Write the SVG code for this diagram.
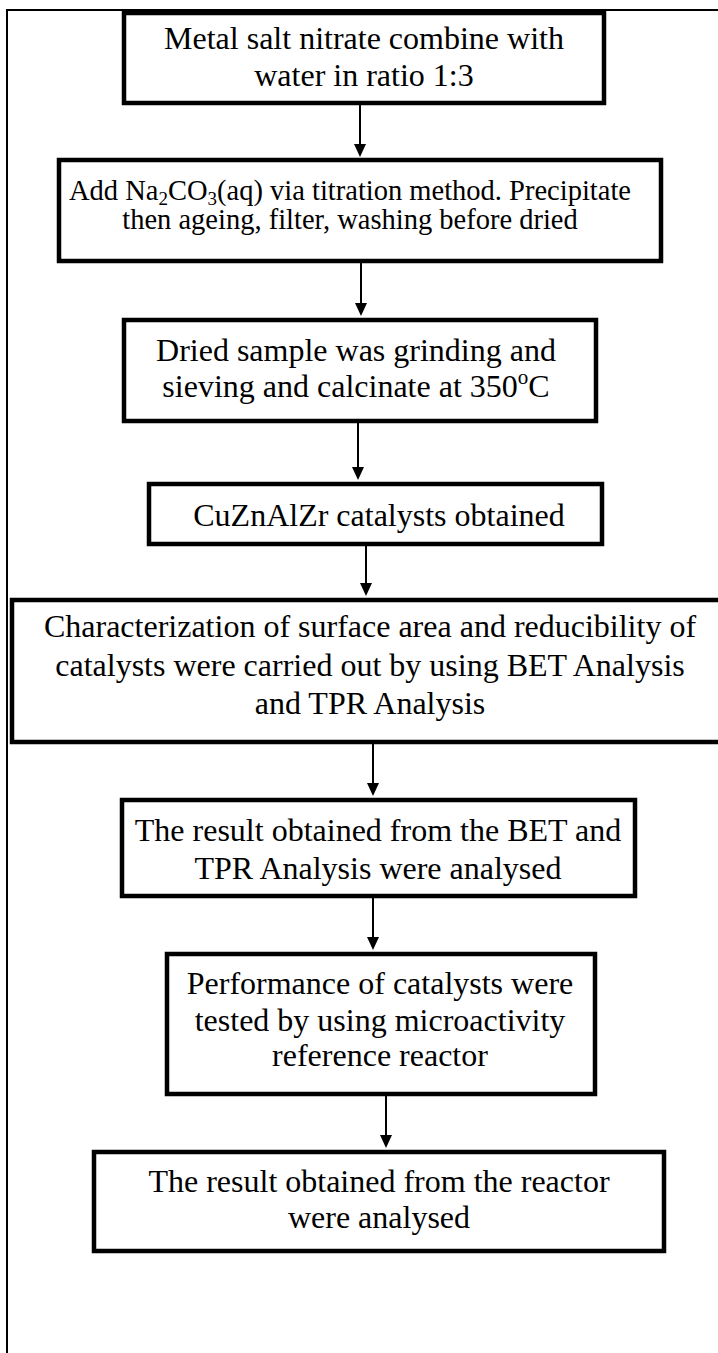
<svg xmlns="http://www.w3.org/2000/svg" width="718" height="1353" viewBox="0 0 718 1353">
<defs>
<style>
.box{fill:#fff;stroke:#000;stroke-width:4.5}
.frame{fill:none;stroke:#000;stroke-width:2}
.ln{stroke:#000;stroke-width:2;fill:none}
.t{font-family:"Liberation Serif","Times New Roman",serif;font-size:32px;fill:#000;text-anchor:middle}
.t2{font-family:"Liberation Serif","Times New Roman",serif;font-size:28.5px;fill:#000;text-anchor:middle}
</style>
</defs>
<rect width="718" height="1353" fill="#fff"/>
<path class="frame" d="M7,1353 V10 H718"/>
<g id="connectors">
<line class="ln" x1="360" y1="104" x2="360" y2="146"/><path d="M354,144 L366,144 L360,157 Z"/>
<line class="ln" x1="361" y1="262" x2="361" y2="305"/><path d="M355,303 L367,303 L361,316 Z"/>
<line class="ln" x1="358" y1="422" x2="358" y2="469"/><path d="M352,467 L364,467 L358,480 Z"/>
<line class="ln" x1="366" y1="545" x2="366" y2="585"/><path d="M360,583 L372,583 L366,596 Z"/>
<line class="ln" x1="373" y1="743" x2="373" y2="785"/><path d="M367,783 L379,783 L373,796 Z"/>
<line class="ln" x1="373" y1="897" x2="373" y2="939"/><path d="M367,937 L379,937 L373,950 Z"/>
<line class="ln" x1="386" y1="1095" x2="386" y2="1137"/><path d="M380,1135 L392,1135 L386,1148 Z"/>
</g>
<g id="n1"><rect class="box" x="124" y="13" width="480" height="90"/>
<text class="t" x="364" y="49">Metal salt nitrate combine with</text>
<text class="t" x="364" y="86">water in ratio 1:3</text></g>
<g id="n2"><rect class="box" x="59" y="160" width="602" height="101"/>
<text class="t2" x="350" y="200">Add Na<tspan font-size="19" baseline-shift="-5">2</tspan>CO<tspan font-size="19" baseline-shift="-5">3</tspan>(aq) via titration method. Precipitate</text>
<text class="t2" x="350" y="229">then ageing, filter, washing before dried</text></g>
<g id="n3"><rect class="box" x="124" y="320" width="472" height="101"/>
<text class="t" x="356" y="361">Dried sample was grinding and</text>
<text class="t" x="356" y="397">sieving and calcinate at 350<tspan font-size="21" baseline-shift="13">o</tspan>C</text></g>
<g id="n4"><rect class="box" x="149" y="484" width="453" height="60"/>
<text class="t" x="379" y="526">CuZnAlZr catalysts obtained</text></g>
<g id="n5"><rect class="box" x="12" y="600" width="712" height="142"/>
<text class="t" x="370" y="637">Characterization of surface area and reducibility of</text>
<text class="t" x="370" y="676">catalysts were carried out by using BET Analysis</text>
<text class="t" x="370" y="714">and TPR Analysis</text></g>
<g id="n6"><rect class="box" x="122" y="800" width="513" height="96"/>
<text class="t" x="378" y="841">The result obtained from the BET and</text>
<text class="t" x="378" y="879">TPR Analysis were analysed</text></g>
<g id="n7"><rect class="box" x="167" y="954" width="428" height="140"/>
<text class="t" x="380" y="994">Performance of catalysts were</text>
<text class="t" x="380" y="1031">tested by using microactivity</text>
<text class="t" x="380" y="1066">reference reactor</text></g>
<g id="n8"><rect class="box" x="94" y="1152" width="570" height="99"/>
<text class="t" x="379" y="1192">The result obtained from the reactor</text>
<text class="t" x="379" y="1228">were analysed</text></g>
</svg>
